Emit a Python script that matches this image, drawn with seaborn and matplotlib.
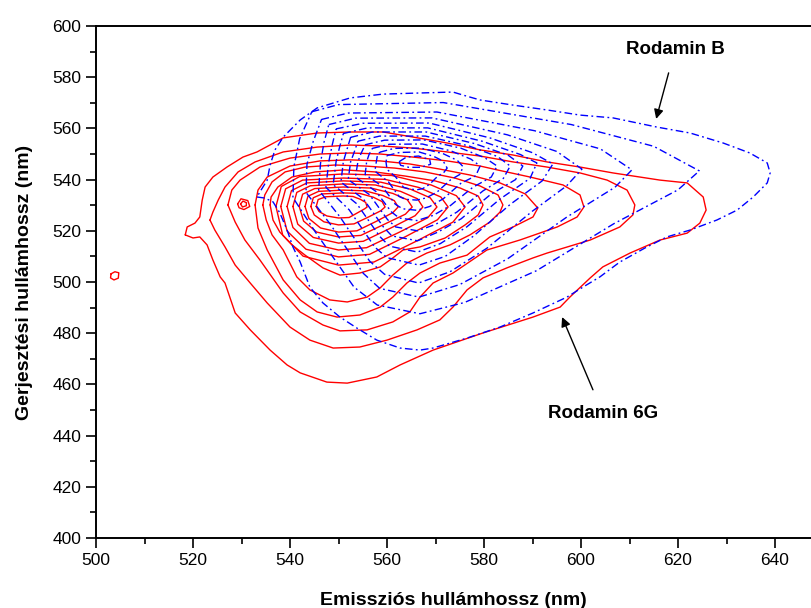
import numpy as np
import pandas as pd
import seaborn as sns
import matplotlib
matplotlib.use("Agg")
import matplotlib.pyplot as plt

# ---------------- data: contour rings (emission nm, excitation nm)
# Rodamin 6G (red, solid), outer -> inner
r6g_1 = [(518.4,518.4),(520.0,517.2),(521.4,517.6),(522.9,514.5),(524.1,508.6),(525.6,502.0),(526.6,499.6),
         (528.7,487.9),(531.8,481.3),(535.9,473.4),(539.4,467.6),(542.1,464.5),(547.6,460.9),(551.8,460.5),
         (557.9,462.9),(562.7,467.6),(569.5,473.4),(579.8,480.1),(590.1,486.3),(595.7,490.2),(597.7,494.1),
         (601.9,501.6),(604.5,505.9),(610.1,511.3),(616.3,516.4),(621.9,519.1),(624.5,523.0),(625.8,528.1),
         (625.2,533.2),(621.9,538.7),(616.3,539.8),(606.6,542.6),(599.8,544.9),(593.0,546.9),(586.0,549.6),
         (579.2,551.6),(572.4,554.3),(565.4,556.6),(559.2,558.6),(552.4,558.6),(545.6,558.2),(538.6,556.3),
         (533.2,550.8),(530.3,548.8),(527.0,544.9),(524.1,541.0),(522.5,537.1),(521.9,532.0),(521.4,525.4),
         (520.4,523.0),(518.8,521.5)]
r6g_2 = [(523.5,524.2),(524.1,527.3),(525.2,532.0),(526.6,537.1),(529.3,543.0),(532.8,546.9),(538.6,550.8),
         (545.6,552.7),(552.4,553.5),(559.2,553.1),(565.4,552.3),(572.4,550.8),(579.2,549.2),(586.0,546.9),
         (593.0,544.9),(599.8,542.6),(605.4,539.8),(609.5,535.9),(611.1,530.1),(610.7,526.2),(608.0,521.5),
         (601.9,516.4),(593.0,511.3),(590.1,509.4),(584.7,505.5),(579.8,501.6),(576.5,496.9),(573.6,490.2),
         (570.9,485.2),(566.2,481.3),(560.0,477.3),(554.4,474.6),(548.9,474.2),(544.1,477.3),(540.0,482.4),
         (535.3,491.8),(531.8,499.6),(528.7,506.6),(526.6,513.7),(524.5,520.3)]
r6g_3 = [(527.2,530.1),(528.0,535.9),(529.7,539.8),(533.8,544.9),(540.0,548.4),(546.2,550.0),(552.4,550.4),
         (558.6,550.0),(565.4,548.8),(572.4,547.3),(579.2,545.3),(582.7,543.8),(589.5,541.0),(596.3,537.9),
         (599.8,534.0),(600.6,529.3),(599.2,525.4),(595.1,521.5),(587.4,516.4),(580.6,512.5),(573.6,503.5),
         (569.5,499.6),(566.8,494.1),(564.7,488.3),(561.2,484.4),(555.9,481.3),(550.3,480.9),(546.8,483.2),
         (542.1,488.3),(538.6,495.7),(533.8,508.6),(530.7,516.4),(528.7,523.4)]
r6g_4 = [(532.8,530.1),(533.4,535.9),(535.3,541.0),(540.0,545.3),(546.2,547.3),(552.4,547.7),(558.6,547.3),
         (564.7,546.1),(570.9,544.1),(577.1,541.8),(583.3,538.7),(588.5,534.4),(591.1,528.9),(590.1,525.4),
         (586.0,521.5),(581.2,517.6),(576.5,510.5),(570.9,507.4),(566.8,503.5),(564.1,499.6),(561.2,494.1),
         (558.6,490.2),(554.4,487.1),(549.7,486.3),(545.6,488.3),(542.1,493.0),(538.6,500.8),(535.3,512.5),
         (533.4,521.1)]
r6g_5 = [(534.4,530.1),(534.8,534.0),(536.3,539.1),(539.0,543.0),(543.1,544.9),(549.3,545.7),(555.5,545.3),
         (561.6,544.5),(567.8,543.0),(574.0,540.6),(579.2,537.5),(582.9,534.0),(583.9,530.1),(583.3,527.3),
         (581.2,523.4),(577.1,518.4),(573.0,514.5),(568.2,511.3),(564.1,507.4),(561.2,502.7),(558.6,497.7),
         (555.9,494.1),(551.8,492.2),(548.2,493.0),(544.1,496.9),(541.4,502.0),(538.6,512.5),(536.3,518.4),
         (535.1,524.2)]
r6g_6 = [(535.9,530.1),(536.1,533.2),(537.5,537.1),(540.4,541.0),(545.2,543.0),(551.3,543.8),(557.5,543.0),
         (563.7,541.4),(569.9,539.5),(575.1,536.7),(578.8,533.6),(579.8,530.1),(578.8,526.2),(576.1,522.3),
         (572.0,517.2),(566.8,513.7),(563.3,512.5),(561.2,509.4),(558.6,505.9),(554.4,503.5),(550.3,502.7),
         (546.8,505.5),(543.1,510.5),(540.4,514.5),(537.9,519.5),(536.5,524.2)]
r6g_7 = [(537.1,529.5),(538.2,537.3),(542.0,541.2),(551.0,542.2),(561.0,541.6),(569.1,537.9),(574.3,533.7),
         (576.1,529.3),(573.6,523.4),(566.1,516.0),(557.3,507.8),(550.0,506.6),(542.7,510.1),(538.5,518.3)]
r6g_8 = [(538.1,529.5),(539.1,536.4),(542.6,539.8),(551.0,540.6),(559.6,540.1),(566.6,536.9),(571.1,533.2),
         (572.6,529.3),(570.4,524.3),(564.0,517.9),(556.4,510.8),(550.0,509.8),(543.3,512.8),(539.4,519.9)]
r6g_9 = [(539.4,529.5),(540.3,535.7),(543.5,538.7),(551.0,539.5),(558.7,539.0),(564.9,536.2),(568.9,532.9),
         (570.3,529.3),(568.4,525.1),(562.6,519.5),(555.8,513.4),(550.0,512.5),(544.0,515.1),(540.6,521.3)]
r6g_10 = [(540.6,529.5),(541.4,535.0),(544.2,537.6),(551.0,538.3),(557.6,537.9),(562.8,535.4),(566.3,532.5),
          (567.4,529.3),(565.8,525.9),(560.8,521.1),(555.1,515.9),(550.0,515.2),(544.8,517.4),(541.6,522.6)]
r6g_11 = [(541.9,529.5),(542.6,534.3),(545.1,536.5),(551.0,537.1),(556.7,536.7),(561.2,534.6),(564.2,532.1),
          (565.2,529.3),(563.8,526.5),(559.5,522.6),(554.6,518.2),(550.0,517.6),(545.5,519.5),(542.8,523.8)]
r6g_12 = [(543.1,529.5),(543.7,533.5),(545.9,535.4),(551.0,535.9),(555.5,535.6),(559.1,533.8),(561.5,531.8),
          (562.3,529.3),(561.2,527.1),(557.8,523.7),(553.8,520.0),(550.0,519.5),(546.3,521.1),(543.9,524.8)]
r6g_13 = [(544.3,529.5),(544.8,532.9),(546.6,534.4),(551.0,534.8),(554.4,534.6),(557.2,533.1),(559.0,531.4),
          (559.6,529.3),(558.7,527.8),(556.2,525.4),(553.2,522.7),(550.0,522.3),(547.0,523.5),(545.0,526.2)]
r6g_14 = [(545.4,529.5),(545.8,532.2),(547.4,533.3),(551.0,533.6),(553.0,533.4),(554.5,532.3),(555.6,531.1),
          (555.9,529.3),(555.4,528.6),(553.9,527.0),(552.2,525.2),(550.0,525.0),(547.6,525.8),(546.0,527.5)]
r6g_islet_a = [(503.1,503.2),(503.9,504.0),(504.7,503.6),(504.6,501.5),(503.7,500.8),(503.0,501.6)]
r6g_islet_b = [(529.2,530.5),(529.9,532.5),(531.3,531.8),(531.7,529.5),(530.5,528.3),(529.5,529.0)]
r6g_islet_c = [(529.8,530.5),(530.3,531.6),(531.0,531.0),(531.0,529.8),(530.2,529.3)]

# Rodamin B (blue, dash-dot), outer -> inner
rb_1 = [(533.2,533.2),(534.8,532.8),(536.5,531.3),(537.9,527.0),(539.4,520.3),(540.6,513.7),(542.1,507.8),
        (544.1,498.0),(546.8,491.8),(550.3,486.3),(553.8,482.0),(557.9,477.3),(562.7,474.2),(566.8,473.4),
        (569.5,474.2),(576.5,478.1),(583.3,482.4),(590.1,487.9),(597.1,494.1),(600.4,498.0),(603.9,502.0),
        (608.0,507.8),(613.2,513.3),(617.7,517.6),(622.5,520.3),(628.0,524.2),(632.2,528.1),(635.5,533.2),
        (638.4,538.7),(639.0,542.6),(638.4,546.5),(634.8,550.4),(629.3,554.3),(622.5,558.2),(615.7,560.5),
        (606.6,564.1),(599.8,565.2),(593.0,567.2),(586.0,569.1),(579.2,571.1),(575.7,573.0),(573.6,574.2),
        (566.2,573.8),(559.2,573.4),(552.4,571.9),(545.6,568.0),(542.1,563.3),(538.6,556.6),(536.9,551.6),
        (535.9,545.7),(535.3,539.8),(533.8,535.2)]
rb_2 = [(544.5,566.5),(550.0,569.3),(571.6,570.1),(598.0,561.5),(615.0,553.0),(624.4,543.4),(620.0,536.0),
        (606.8,522.8),(590.8,504.4),(576.0,492.0),(566.8,487.6),(558.0,491.0),(553.2,498.0),(545.2,519.6),
        (540.6,533.0),(540.8,545.0),(542.0,556.0)]
rb_3 = [(546.5,563.5),(552.0,566.0),(570.3,566.4),(590.4,559.1),(604.0,552.0),(610.5,543.8),(607.0,537.0),
        (597.1,525.4),(584.9,509.1),(575.0,499.0),(566.6,494.1),(558.5,497.5),(555.1,503.4),(548.3,522.6),
        (543.3,535.0),(543.5,546.0),(544.8,555.0)]
rb_4 = [(548.0,561.5),(553.5,564.0),(569.3,564.1),(584.8,557.5),(595.0,551.0),(600.2,544.1),(597.0,537.5),
        (590.0,527.7),(580.6,513.2),(573.0,504.0),(566.5,499.6),(559.5,503.0),(556.4,508.2),(550.4,525.2),
        (545.9,536.0),(546.3,546.5),(547.0,554.5)]
rb_5 = [(549.5,559.8),(555.0,562.0),(568.7,562.1),(581.2,556.3),(590.0,550.5),(594.2,546.1),(592.0,539.5),
        (585.4,530.3),(577.8,517.9),(572.0,510.0),(566.6,506.6),(560.0,509.5),(557.5,513.6),(552.2,528.2),
        (547.4,537.0),(548.0,547.0),(548.7,553.5)]
rb_6 = [(551.0,558.0),(556.0,560.2),(568.4,560.2),(579.6,555.0),(587.5,549.8),(590.9,546.5),(589.5,540.5),
        (583.3,532.4),(576.5,521.6),(571.0,515.0),(566.3,511.7),(560.5,514.0),(558.5,517.8),(553.8,530.5),
        (548.9,538.0),(549.5,547.0),(550.2,552.5)]
rb_7 = [(552.5,556.5),(557.0,558.6),(568.1,558.6),(578.0,554.1),(585.0,549.5),(588.0,545.3),(586.5,540.0),
        (581.3,534.1),(575.3,524.7),(570.5,519.5),(566.3,516.1),(561.0,518.0),(559.3,521.4),(555.1,532.5),
        (550.5,539.0),(551.0,547.0),(551.7,551.5)]
rb_8 = [(554.0,555.0),(558.5,557.0),(567.9,557.0),(576.8,553.2),(582.8,549.0),(585.4,545.3),(584.0,540.5),
        (579.8,535.6),(574.4,527.3),(570.0,522.5),(566.3,520.0),(561.8,521.5),(560.1,524.4),(556.4,534.1),
        (552.0,540.0),(552.5,547.0),(553.2,550.5)]
rb_9 = [(555.5,553.6),(559.5,555.4),(567.6,555.5),(575.2,552.3),(580.2,548.5),(582.7,545.3),(581.5,541.0),
        (577.7,537.0),(573.1,529.9),(569.5,526.0),(566.2,524.0),(562.5,525.0),(560.9,527.4),(557.7,535.4),
        (553.5,541.0),(554.0,547.0),(554.6,550.0)]
rb_10 = [(557.0,552.2),(560.5,553.8),(567.3,553.9),(573.2,551.2),(577.3,548.0),(579.2,545.3),(578.3,541.5),
         (575.2,538.5),(571.6,532.5),(568.8,529.5),(566.2,528.0),(563.2,528.6),(561.7,530.4),(559.0,537.4),
         (555.5,542.0),(555.8,547.0),(556.3,549.8)]
rb_11 = [(558.5,550.7),(561.5,552.2),(567.0,552.3),(571.6,550.1),(574.5,547.5),(575.7,545.0),(575.0,542.0),
         (573.1,539.9),(570.3,535.1),(568.0,532.8),(566.1,532.0),(563.8,532.3),(562.5,533.4),(560.3,539.1),
         (557.5,543.3),(557.8,547.0),(558.0,549.2)]
rb_12 = [(560.0,549.4),(562.6,550.6),(566.6,550.8),(569.6,549.1),(571.6,547.2),(572.4,544.5),(571.6,542.5),
         (570.6,541.6),(568.8,538.2),(567.4,536.5),(566.1,536.0),(564.5,536.4),(563.4,537.0),(561.8,541.0),
         (560.0,544.0),(559.8,546.8)]
rb_13 = [(562.5,547.0),(564.0,548.8),(566.5,549.2),(568.8,547.8),(569.0,546.0),(567.0,544.8),(564.5,544.8),
         (562.8,545.6)]

r6g_rings = [r6g_1, r6g_2, r6g_3, r6g_4, r6g_5, r6g_6, r6g_7, r6g_8, r6g_9, r6g_10,
             r6g_11, r6g_12, r6g_13, r6g_14, r6g_islet_a, r6g_islet_b, r6g_islet_c]
rb_rings = [rb_1, rb_2, rb_3, rb_4, rb_5, rb_6, rb_7, rb_8, rb_9, rb_10, rb_11, rb_12, rb_13]

x_ticks = [500, 520, 540, 560, 580, 600, 620, 640]
y_ticks = [400, 420, 440, 460, 480, 500, 520, 540, 560, 580, 600]
x_label = "Emissziós hullámhossz (nm)"
y_label = "Gerjesztési hullámhossz (nm)"
label_b = "Rodamin B"
label_6g = "Rodamin 6G"


def rings_frame(rings):
    rows = []
    for k, ring in enumerate(rings):
        pts = list(ring) + [ring[0]]
        for i, (em, ex) in enumerate(pts):
            rows.append({"ring": k, "order": i, "em": em, "ex": ex})
    return pd.DataFrame(rows)


sns.set_style("ticks")
plt.rcParams["font.family"] = ["Liberation Sans", "DejaVu Sans"]
plt.rcParams["text.color"] = "black"
plt.rcParams["axes.labelcolor"] = "black"
plt.rcParams["xtick.color"] = "black"
plt.rcParams["ytick.color"] = "black"

fig = plt.figure(figsize=(8.11, 6.08), dpi=100)
ax = fig.add_axes([96 / 811, 70 / 608, 715 / 811, 512 / 608])

df_r = rings_frame(r6g_rings)
df_b = rings_frame(rb_rings)

sns.lineplot(data=df_r, x="em", y="ex", units="ring", estimator=None, sort=False,
             color="#ff0000", linewidth=1.0, ax=ax, legend=False)
sns.lineplot(data=df_b, x="em", y="ex", units="ring", estimator=None, sort=False,
             color="#0000ff", linewidth=1.0, ax=ax, legend=False,
             linestyle=(0, (5.5, 2.4, 1.3, 2.4)))

ax.set_xlim(500, 500 + 715 / 4.85)
ax.set_ylim(400, 600)
ax.set_xticks(x_ticks)
ax.set_yticks(y_ticks)
ax.set_xticks(np.arange(510, 650, 20), minor=True)
ax.set_yticks(np.arange(410, 600, 20), minor=True)
ax.tick_params(axis="both", which="major", length=7, width=1.2, labelsize=12.5,
               direction="out", colors="black")
ax.tick_params(axis="both", which="minor", length=4, width=1.2, direction="out", colors="black")
ax.tick_params(axis="x", pad=4)
for s in ["left", "bottom", "top"]:
    ax.spines[s].set_linewidth(1.4)
    ax.spines[s].set_color("black")
ax.spines["right"].set_visible(False)

ax.set_xlabel(x_label, fontsize=14, fontweight="bold", labelpad=17, color="black")
ax.set_ylabel(y_label, fontsize=14, fontweight="bold", labelpad=14, color="black")

ax.annotate(label_b, xy=(615.5, 563.7), xytext=(619.4, 591.0),
            fontsize=13.5, fontweight="bold", ha="center", va="center", color="black",
            arrowprops=dict(arrowstyle="-|>", color="black", lw=1.0,
                            mutation_scale=14, shrinkA=9, shrinkB=0))
ax.annotate(label_6g, xy=(596.1, 486.3), xytext=(604.5, 448.8),
            fontsize=13.5, fontweight="bold", ha="center", va="center", color="black",
            arrowprops=dict(arrowstyle="-|>", color="black", lw=1.0,
                            mutation_scale=14, shrinkA=9, shrinkB=0))

fig.savefig("out.png", dpi=100)
